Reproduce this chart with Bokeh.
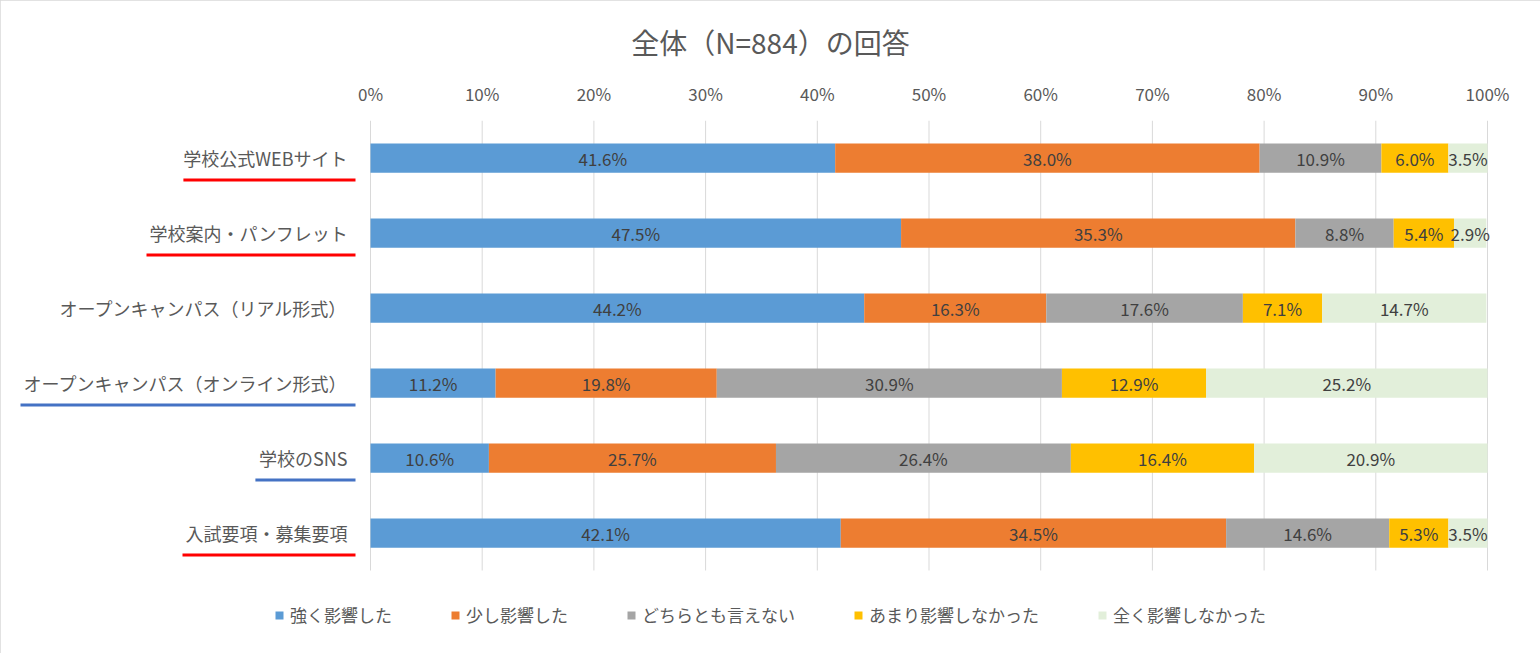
from bokeh.plotting import figure
from bokeh.models import (ColumnDataSource, Range1d, FixedTicker, PrintfTickFormatter,
                          Legend, LegendItem)
from bokeh.core.properties import value
from bokeh.embed import file_html
from bokeh.resources import INLINE

# ---------------- data ----------------
categories = ["学校公式WEBサイト", "学校案内・パンフレット", "オープンキャンパス（リアル形式）",
              "オープンキャンパス（オンライン形式）", "学校のSNS", "入試要項・募集要項"]
series_names = ["強く影響した", "少し影響した", "どちらとも言えない", "あまり影響しなかった", "全く影響しなかった"]
strong = [41.6, 47.5, 44.2, 11.2, 10.6, 42.1]
little = [38.0, 35.3, 16.3, 19.8, 25.7, 34.5]
neutral = [10.9, 8.8, 17.6, 30.9, 26.4, 14.6]
notmuch = [6.0, 5.4, 7.1, 12.9, 16.4, 5.3]
none_ = [3.5, 2.9, 14.7, 25.2, 20.9, 3.5]
underline_kind = ["red", "red", None, "blue", "blue", "red"]
tick_values = [0, 10, 20, 30, 40, 50, 60, 70, 80, 90, 100]

# ---------------- styling / layout ----------------
colors = ["#5B9BD5", "#ED7D31", "#A5A5A5", "#FFC000", "#E2EFDA"]
uline_colors = {"red": "#FF0000", "blue": "#4472C4"}
FONT = "Noto Sans CJK JP"
W, H = 1540, 653
FRAME_L, FRAME_R = 10, 1530
FRAME_T, BARS_B, FRAME_B = 120, 570, 650
ZERO_PX, HUNDRED_PX = 370, 1487
ppu = (HUNDRED_PX - ZERO_PX) / 100.0
x_start = -(ZERO_PX - FRAME_L) / ppu
x_end = (FRAME_R - ZERO_PX) / ppu
n = len(categories)
ypx = (BARS_B - FRAME_T) / n  # px per category unit
y_bottom = -(FRAME_B - BARS_B) / ypx

p = figure(frame_width=FRAME_R - FRAME_L, frame_height=FRAME_B - FRAME_T,
           output_backend="svg", toolbar_location=None,
           x_range=Range1d(x_start, x_end), y_range=Range1d(y_bottom, n),
           x_axis_location="above", y_axis_location=None,
           min_border_left=FRAME_L, min_border_right=W - FRAME_R,
           min_border_top=FRAME_T, min_border_bottom=H - FRAME_B)
p.outline_line_color = None
p.background_fill_color = "white"
p.border_fill_color = "white"
p.styles = {"outline": "2px solid #D9D9D9", "outline-offset": "-2px"}

p.title.text = "全体（N=884）の回答"
p.title.align = "center"
p.title.text_font = FONT
p.title.text_font_size = "28px"
p.title.text_font_style = "normal"
p.title.text_color = "#595959"
p.title.standoff = 32

ax = p.xaxis[0]
ax.ticker = FixedTicker(ticks=tick_values)
ax.formatter = PrintfTickFormatter(format="%d%%")
ax.axis_line_color = None
ax.major_tick_line_color = None
ax.minor_tick_line_color = None
ax.major_label_text_font = FONT
ax.major_label_text_font_size = "17px"
ax.major_label_text_color = "#595959"
ax.major_label_standoff = 9

p.xgrid.grid_line_color = None
p.ygrid.grid_line_color = None
# vertical gridlines only over the bar area
p.segment(x0=tick_values, y0=[0] * len(tick_values), x1=tick_values, y1=[n] * len(tick_values),
          line_color="#D9D9D9", line_width=1)

ypos = [n - 1 - i + 0.5 for i in range(n)]
cols = ["s0", "s1", "s2", "s3", "s4"]
series = [strong, little, neutral, notmuch, none_]
src = ColumnDataSource(dict(y=ypos, cat=categories, **{c: s for c, s in zip(cols, series)}))
rends = p.hbar_stack(cols, y="y", height=0.39, color=colors, source=src, line_color=None)

# data labels
lx, ly, lt = [], [], []
for i in range(n):
    left = 0.0
    for s in series:
        v = s[i]
        lx.append(left + v / 2.0)
        ly.append(ypos[i])
        lt.append(f"{v:.1f}%")
        left += v
p.text(x=lx, y=ly, text=lt, text_align="center", text_baseline="middle",
       text_font=value(FONT), text_font_size="17px", text_color="#404040")

# category labels
LAB_FS = 18.0
lab_x = -23 / ppu
p.text(x=[lab_x] * n, y=ypos, text=categories, text_align="right", text_baseline="middle",
       text_font=value(FONT), text_font_size=f"{LAB_FS:.0f}px", text_color="#595959")

# underlines (length estimated from label character widths)
def text_px(s, fs=LAB_FS):
    w = 0.0
    for ch in s:
        w += fs * (0.65 if ord(ch) < 0x2000 else 1.0)
    return w

ux0, ux1, uy, uc = [], [], [], []
for i, kind in enumerate(underline_kind):
    if kind is None:
        continue
    w = text_px(categories[i])
    ux0.append(lab_x - (w + 3) / ppu)
    ux1.append(-15 / ppu)
    uy.append(ypos[i] - 22 / ypx)
    uc.append(uline_colors[kind])
p.segment(x0=ux0, y0=uy, x1=ux1, y1=uy, line_color=uc, line_width=3)

legend = Legend(items=[LegendItem(label=nm, renderers=[r]) for nm, r in zip(series_names, rends)],
                orientation="horizontal", location="bottom_center",
                label_text_font=FONT, label_text_font_size="17px", label_text_color="#595959",
                glyph_width=10, glyph_height=10, spacing=58, label_standoff=6,
                border_line_color=None, background_fill_alpha=0, margin=23, padding=5)
p.add_layout(legend, "center")

open("out.html", "w").write(file_html(p, INLINE))
